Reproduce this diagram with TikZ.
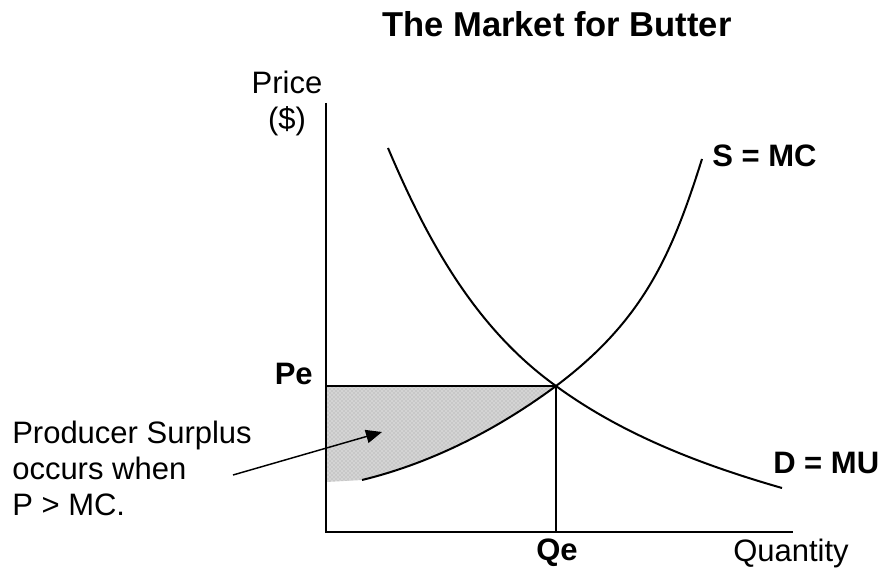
\documentclass[tikz,border=0pt]{standalone}
\usepackage{fontspec}
\setmainfont{Liberation Sans}
\usepackage{tikz}
\usetikzlibrary{arrows.meta,positioning,patterns}
\definecolor{surplusGray}{RGB}{200,200,200}

\begin{document}
\begin{tikzpicture}[x=0.75pt,y=-0.75pt,
  curve/.style={line width=1.5pt},
  axis/.style={line width=1.8pt},
  guide/.style={line width=1.3pt},
  pointer/.style={line width=1.1pt,-{Triangle[length=12pt,width=10pt]}},
  lbl/.style={inner sep=0pt,font=\fontsize{23.25pt}{27pt}\selectfont},
  blbl/.style={inner sep=0pt,font=\fontsize{23.25pt}{27pt}\selectfont\bfseries}]
\useasboundingbox (0,0) rectangle (882,577);
\coordinate (origin) at (326,532);
\coordinate (ytop) at (326,103);
\coordinate (xend) at (793,532);
\coordinate (eq) at (556,386);
\coordinate (pe) at (326,386);
\coordinate (qe) at (556,532);
\coordinate (sLow) at (362,480);
\coordinate (sHigh) at (702,159);
\coordinate (dHigh) at (388,148);
\coordinate (dLow) at (782,488);
\coordinate (tail) at (233,475);
\coordinate (head) at (382,432);

\fill[surplusGray] (pe) -- (eq) .. controls (498,429) and (432,463) .. (sLow) -- (326,482) -- cycle;
\fill[pattern=crosshatch dots,pattern color=white] (pe) -- (eq) .. controls (498,429) and (432,463) .. (sLow) -- (326,482) -- cycle;

\draw[axis] (ytop) -- (origin) -- (xend);
\draw[guide] (pe) -- (eq) -- (qe);
\draw[curve] (dHigh) .. controls (427,240) and (475,328) .. (eq) .. controls (623,435) and (702,465) .. (dLow);
\draw[curve] (sLow) .. controls (432,463) and (498,429) .. (eq) .. controls (644,320) and (672,254) .. (sHigh);
\draw[pointer] (tail) -- (head);

\node[inner sep=0pt,anchor=base,font=\fontsize{25.9pt}{30pt}\selectfont\bfseries] (title) at (557,37) {The Market for Butter};
\node[lbl,anchor=north,align=center] (price) at (287,70.5) {Price\\(\$)};
\node[lbl,anchor=base] (quantity) at (791,561) {Quantity};
\node[blbl,anchor=base east] (pelabel) at (313,384) {Pe};
\node[blbl,anchor=base] (qelabel) at (557,560) {Qe};
\node[blbl,anchor=base west] (supply) at (712,167) {S = MC};
\node[blbl,anchor=base west] (demand) at (773,473) {D = MU};
\node[lbl,anchor=north west,align=left] (surplus) at (12,420.5) {Producer Surplus\\occurs when\\P > MC.};
\end{tikzpicture}
\end{document}
